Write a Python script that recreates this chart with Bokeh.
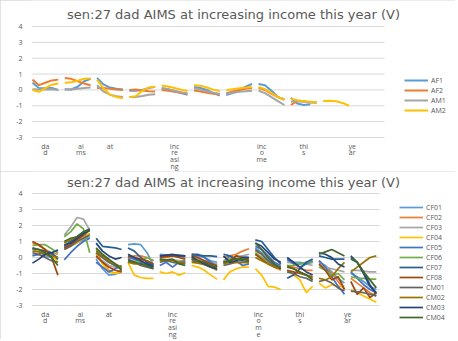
from bokeh.plotting import figure
from bokeh.models import Range1d, FixedTicker, Legend, LegendItem, Label
from bokeh.layouts import column
from bokeh.embed import file_html
from bokeh.resources import INLINE

N = float("nan")

title_text = "sen:27 dad AIMS at increasing income this year (V)"
tick_pos = [4, 15, 24, 44, 71, 84, 99]
tick_labels_top = ["da\nd", "ai\nms", "at", "inc\nre\nasi\nng", "inc\no\nme", "thi\ns", "ye\nar"]
tick_labels_bottom = ["da\nd", "ai\nms", "at", "inc\nre\nasi\nng", "inc\no\nm\ne", "thi\ns", "ye\nar"]
y_ticks = [-3, -2, -1, 0, 1, 2, 3, 4]

# ---- top chart series (one list of values per syllable segment) ----
top_names = ["AF1", "AF2", "AM1", "AM2"]
top_colors = ["#5B9BD5", "#ED7D31", "#A5A5A5", "#FFC000"]
AF1 = [[0.45, 0.12, 0.1, 0.12, 0.0], [0.05, 0.03, 0.2, 0.55, 0.7], [0.75, 0.35, 0.15, 0.08, 0.03],
       [-0.05, -0.05, 0.0, 0.12, 0.2], [0.1, 0.05, -0.08, -0.2, -0.3], [0.18, 0.12, 0.0, -0.2, -0.35],
       [-0.33, -0.2, 0.0, 0.2, 0.38], [0.38, 0.3, -0.05, -0.45, -0.6], [-0.5, -0.85, -0.95, -0.9, N],
       None, None]
AF2 = [[0.65, 0.3, 0.45, 0.6, 0.65], [0.75, 0.7, 0.55, 0.4, 0.3], [0.12, 0.12, 0.08, 0.03, 0.0],
       [0.0, 0.03, -0.03, -0.08, -0.1], [0.0, -0.05, -0.12, -0.18, -0.24], [-0.03, -0.1, -0.18, -0.24, -0.28],
       [-0.2, -0.1, 0.0, 0.08, 0.12], [0.12, 0.0, -0.25, -0.45, -0.6], [-0.95, -0.7, -0.72, -0.78, -0.8],
       None, None]
AM1 = [[0.05, 0.03, 0.03, 0.05, 0.0], [0.03, 0.03, 0.08, 0.12, 0.15], [0.3, -0.1, -0.3, -0.4, -0.45],
       [-0.45, -0.45, -0.38, -0.3, -0.28], [0.12, 0.05, -0.05, -0.15, -0.22], [0.1, 0.02, -0.08, -0.18, -0.24],
       [-0.25, -0.18, -0.12, -0.08, -0.05], [-0.05, -0.2, -0.45, -0.7, -0.95], [-0.75, -0.7, -0.75, -0.8, -0.8],
       None, None]
AM2 = [[0.0, -0.12, 0.12, 0.33, 0.4], [0.45, 0.48, 0.58, 0.7, 0.72], [0.65, 0.1, -0.3, -0.45, -0.52],
       [-0.45, -0.4, -0.05, 0.15, 0.2], [0.28, 0.22, 0.12, 0.02, -0.07], [0.3, 0.27, 0.15, 0.02, -0.07],
       [0.0, 0.05, 0.1, 0.15, 0.18], [0.18, 0.05, -0.2, -0.45, -0.6], [-0.55, -0.65, -0.72, -0.75, -0.78],
       [-0.7, -0.68, -0.72, -0.82, -1.0], None]
top_series = [AF1, AF2, AM1, AM2]

# ---- bottom chart series ----
bottom_names = ["CF01", "CF02", "CF03", "CF04", "CF05", "CF06", "CF07", "CF08", "CM01", "CM02", "CM03", "CM04"]
bottom_colors = ["#5B9BD5", "#ED7D31", "#A5A5A5", "#FFC000", "#4472C4", "#70AD47",
                 "#255E91", "#9E480E", "#636363", "#997300", "#264478", "#43682B"]
CF01 = [[0.5, 0.4, 0.1, 0.0, -0.1], [0.7, 0.8, 0.9, 1.1, 1.3], [-0.1, -0.7, -1.1, -1.05, -0.9],
        [0.8, 0.85, 0.8, 0.3, -0.5], [0.2, 0.15, 0.1, 0.1, 0.0], [0.1, 0.1, 0.0, -0.2, -0.3],
        [-0.4, -0.2, 0.0, 0.1, 0.0], [0.6, 0.3, -0.1, -0.4, -0.6], [-0.2, -0.3, -0.3, -0.4, -0.3],
        [-0.3, -0.5, -0.9, -1.3, -1.6], [-1.0, -1.2, -1.5, -1.8, -2.0]]
CF02 = [[0.9, 0.75, 0.5, 0.3, 0.2], [0.6, 0.8, 1.0, 1.3, 1.5], [0.3, -0.3, -0.8, -1.0, -0.8],
        [0.0, 0.1, 0.1, 0.0, -0.2], [0.0, 0.0, 0.1, 0.1, 0.05], [0.0, -0.1, -0.2, -0.3, -0.5],
        [0.0, 0.1, 0.2, 0.4, 0.55], [0.4, 0.2, -0.2, -0.6, -0.8], [-0.5, -0.6, -0.7, -0.8, -0.8],
        [-0.2, -0.6, -1.0, -1.5, -2.0], [-1.3, -1.6, -1.9, -2.2, -2.4]]
CF03 = [[0.2, 0.15, 0.1, 0.3, 0.5], [1.4, 1.9, 2.5, 2.4, 1.7], [0.0, -0.2, -0.5, -0.6, -0.7],
        [-0.2, -0.2, -0.3, -0.4, -0.5], [-0.2, -0.2, -0.15, -0.2, -0.2], [-0.1, -0.15, -0.2, -0.3, -0.4],
        [-0.2, -0.1, 0.0, 0.1, 0.2], [0.2, 0.0, -0.3, -0.5, -0.7], [-0.3, -0.35, -0.4, -0.4, -0.5],
        [-0.5, -0.6, -0.7, -0.8, -0.9], [-0.8, -0.8, -0.85, -0.9, -0.9]]
CF04 = [[0.6, 0.4, 0.5, 0.2, -0.3], [0.5, 0.7, 0.9, 1.2, 1.5], [0.2, -0.4, -0.9, -1.0, -0.9],
        [-0.3, -1.1, -1.25, -1.3, -1.3], [-0.9, -1.0, -0.9, -1.1, -0.95], [-0.5, -0.6, -0.8, -1.1, -1.35],
        [-1.4, -0.9, -0.7, -0.6, -0.6], [-0.7, -1.1, -1.8, -1.85, -2.0], [-0.8, -1.1, -1.4, -2.2, -1.8],
        [-1.6, -1.9, -1.7, -1.8, -1.8], [-2.0, -2.2, -2.4, -2.6, -2.8]]
CF05 = [[0.1, 0.2, 0.45, 0.2, 0.0], [-0.15, 0.3, 0.7, 1.0, 1.2], [-0.3, -0.6, -0.9, -0.7, -0.5],
        [0.0, -0.1, -0.3, -0.4, -0.5], [-0.5, -0.3, -0.6, -0.3, -0.2], [0.2, 0.2, 0.0, -0.3, -0.6],
        [-0.3, 0.1, -0.2, -0.5, -0.4], [0.7, 0.5, 0.1, -0.3, -0.5], [-0.1, -0.4, -0.6, -0.4, -0.2],
        [-0.2, -0.6, -1.2, -1.8, -2.3], [-0.9, -1.3, -1.7, -2.0, -2.2]]
CF06 = [[0.75, 0.8, 0.8, 0.55, 0.3], [1.3, 1.6, 2.1, 1.8, 0.3], [0.5, 0.0, -0.3, -0.5, -0.6],
        [-0.3, -0.3, -0.2, 0.0, -0.2], [-0.1, -0.2, -0.15, -0.3, -0.3], [-0.1, -0.2, -0.3, -0.5, -0.6],
        [-0.2, -0.1, 0.1, 0.0, -0.2], [0.3, 0.0, -0.2, -0.5, -0.6], [-0.5, -0.5, -0.4, -0.3, -0.3],
        [-0.6, -0.8, -1.1, -1.0, -1.4], [-1.2, -1.3, -1.3, -1.35, -1.35]]
CF07 = [[0.55, 0.5, 0.4, 0.3, -0.1], [0.7, 1.0, 1.3, 1.6, 1.8], [1.2, 0.7, 0.65, 0.6, 0.5],
        [0.6, 0.4, 0.0, -0.3, -0.5], [0.1, 0.1, 0.15, 0.15, 0.1], [0.2, 0.15, 0.1, 0.1, 0.05],
        [0.2, 0.1, -0.1, -0.2, -0.3], [1.1, 1.0, 0.5, 0.0, -0.4], [-1.3, -1.1, -0.7, -0.3, -0.1],
        [0.1, 0.0, -0.1, -0.1, -0.1], [-0.1, -0.3, -0.9, -1.7, -2.3]]
CF08 = [[1.0, 0.8, 0.5, 0.0, -1.1], [0.6, 0.8, 1.1, 1.4, 1.7], [0.1, -0.3, -0.6, -0.8, -0.9],
        [0.1, 0.0, -0.1, -0.2, -0.4], [0.0, 0.05, 0.1, 0.0, -0.1], [0.1, 0.0, -0.2, -0.4, -0.5],
        [-0.3, -0.2, 0.1, 0.0, -0.1], [0.2, -0.1, -0.4, -0.6, -0.7], [-0.8, -0.9, -1.0, -1.1, -1.2],
        [-0.4, -0.8, -1.4, -1.2, -2.0], [-1.5, -2.3, -1.9, -2.5, -2.2]]
CM01 = [[0.3, 0.2, 0.0, -0.2, -0.3], [0.5, 0.7, 1.0, 1.2, 1.4], [0.3, 0.0, -0.3, -0.5, -0.7],
        [-0.1, -0.3, -0.5, -0.6, -0.7], [-0.3, -0.2, -0.3, -0.35, -0.4], [-0.2, -0.3, -0.4, -0.6, -0.7],
        [-0.5, -0.4, -0.3, -0.3, -0.3], [0.5, 0.2, -0.2, -0.5, -0.6], [-0.9, -1.0, -1.2, -1.3, -1.5],
        [-1.5, -1.4, -1.6, -1.9, -2.1], [-2.1, -2.15, -2.2, -2.3, -2.4]]
CM02 = [[0.4, 0.35, 0.2, 0.1, 0.0], [0.9, 1.1, 1.3, 1.5, 1.7], [0.4, 0.1, -0.2, -0.4, -0.6],
        [-0.3, -0.4, -0.4, -0.5, -0.6], [-0.2, -0.15, -0.2, -0.3, -0.3], [-0.3, -0.35, -0.45, -0.6, -0.8],
        [-0.4, -0.3, -0.3, -0.3, -0.3], [0.0, -0.2, -0.4, -0.6, -0.7], [-0.5, -0.7, -0.9, -1.1, -1.3],
        [-1.3, -1.4, -1.2, -0.7, -0.3], [-0.9, -0.6, -0.3, 0.0, 0.1]]
CM03 = [[-0.35, -0.1, 0.2, 0.3, 0.45], [0.8, 0.9, 1.2, 1.5, 1.7], [0.9, 0.4, 0.1, -0.1, 0.0],
        [0.2, 0.0, -0.2, -0.4, -0.6], [0.1, 0.15, 0.2, 0.1, 0.1], [0.05, -0.2, -0.4, -0.6, -0.7],
        [0.1, -0.3, -0.2, 0.0, 0.0], [0.9, 0.7, 0.3, -0.1, -0.3], [0.0, -0.3, -0.6, -0.9, -1.1],
        [0.3, 0.2, 0.0, -0.4, -0.6], [0.1, -0.3, -1.0, -1.8, -2.2]]
CM04 = [[0.6, 0.5, 0.3, 0.0, -0.5], [1.0, 1.2, 1.3, 1.6, 1.75], [0.6, 0.2, -0.1, -0.4, -0.8],
        [-0.2, -0.3, -0.4, -0.5, -0.7], [-0.1, -0.15, -0.1, -0.4, -0.5], [-0.1, -0.2, -0.3, -0.5, -0.6],
        [-0.3, -0.2, -0.1, -0.1, -0.2], [0.9, 0.5, 0.0, -0.4, -0.7], [-0.6, -0.7, -0.9, -1.1, -1.4],
        [0.2, 0.35, 0.5, 0.3, 0.1], [0.0, -0.3, -0.9, -1.4, -1.9]]
bottom_series = [CF01, CF02, CF03, CF04, CF05, CF06, CF07, CF08, CM01, CM02, CM03, CM04]

TXT = "#595959"
GRID = "#d9d9d9"
FONT = "Open Sans"
X_LO, X_HI = -0.3, 109.0      # data extent of the plot area
FIG_W = 455
LEFT = 31


def seg_xy(segs):
    xs, ys = [], []
    for s, vals in enumerate(segs):
        if vals is None:
            continue
        for k, v in enumerate(vals):
            xs.append(10 * s + 2 * k)
            ys.append(v)
        xs.append(10 * s + 9)
        ys.append(N)
    return xs, ys


def make_chart(height, area_w, px_top4, px_bot3, labels, names, colors, series, lw, leg_xy, title_px):
    # frame covers the whole figure right of the y-axis; the plot area is area_w px wide,
    # 4 sits px_top4 px below the top and -3 sits px_bot3 px below the top
    frame_w = FIG_W - LEFT
    x_end = X_LO + (X_HI - X_LO) * frame_w / area_w
    ppu = (px_bot3 - px_top4) / 7.0
    y_top = 4 + px_top4 / ppu
    y_bot = -3 - (height - px_bot3) / ppu
    p = figure(width=FIG_W, height=height, output_backend="svg", toolbar_location=None,
               x_range=Range1d(X_LO, x_end), y_range=Range1d(y_bot, y_top),
               min_border_left=LEFT, min_border_right=0, min_border_top=0, min_border_bottom=0,
               background_fill_color="white", border_fill_color="white",
               styles={"outline": "1px solid #d9d9d9", "outline-offset": "-1px"})
    p.outline_line_color = None
    p.xgrid.visible = False
    p.ygrid.visible = False
    # horizontal gridlines across the plot area only
    p.segment(x0=[X_LO] * len(y_ticks), y0=y_ticks, x1=[X_HI] * len(y_ticks), y1=y_ticks,
              line_color=GRID, line_width=1)
    # title
    title_x = X_LO + (X_HI - X_LO) * (234 - 32) / area_w
    title_y = 4 + (px_top4 - title_px) / ppu
    p.add_layout(Label(x=title_x, y=title_y, text=title_text, text_align="center",
                       text_baseline="middle", text_font="DejaVu Sans", text_font_size="13px",
                       text_color=TXT))
    p.yaxis.ticker = FixedTicker(ticks=y_ticks)
    p.yaxis.major_label_overrides = {v: str(v) for v in y_ticks}
    p.yaxis.axis_line_color = None
    p.yaxis.major_tick_line_color = None
    p.yaxis.minor_tick_line_color = None
    p.yaxis.major_tick_out = 0
    p.yaxis.major_tick_in = 0
    p.yaxis.major_label_standoff = 9
    p.yaxis.major_label_text_font = FONT
    p.yaxis.major_label_text_font_size = "7px"
    p.yaxis.major_label_text_color = TXT
    p.xaxis.fixed_location = -3
    p.xaxis.ticker = FixedTicker(ticks=tick_pos)
    p.xaxis.major_label_overrides = dict(zip(tick_pos, labels))
    p.xaxis.axis_line_color = None
    p.xaxis.major_tick_line_color = None
    p.xaxis.minor_tick_line_color = None
    p.xaxis.major_tick_out = 0
    p.xaxis.major_tick_in = 0
    p.xaxis.major_label_standoff = 4
    p.xaxis.major_label_text_font = FONT
    p.xaxis.major_label_text_font_size = "7px"
    p.xaxis.major_label_text_line_height = 0.75
    p.xaxis.major_label_text_color = TXT
    items = []
    for name, col, segs in zip(names, colors, series):
        xs, ys = seg_xy(segs)
        r = p.line(xs, ys, line_color=col, line_width=lw)
        items.append(LegendItem(label=name, renderers=[r]))
    leg = Legend(items=items, location=leg_xy, orientation="vertical",
                 label_text_font=FONT, label_text_font_size="7px", label_text_color=TXT,
                 label_height=10, glyph_height=10, glyph_width=24, spacing=0, padding=0, margin=0,
                 label_standoff=3, border_line_alpha=0, background_fill_alpha=0)
    p.add_layout(leg)
    return p


# top chart: 4 at 26px and -3 at 137px below its top edge
p1 = make_chart(171, 353, 26, 137, tick_labels_top, top_names, top_colors, top_series, 2.0,
                (373, 56), 14)
# bottom chart: 4 at 22px and -3 at 134px below its top edge
p2 = make_chart(168, 348, 22, 134, tick_labels_bottom, bottom_names, bottom_colors, bottom_series, 1.7,
                (368, 17), 11)

layout = column(p1, p2)
open("out.html", "w").write(file_html(layout, INLINE))
